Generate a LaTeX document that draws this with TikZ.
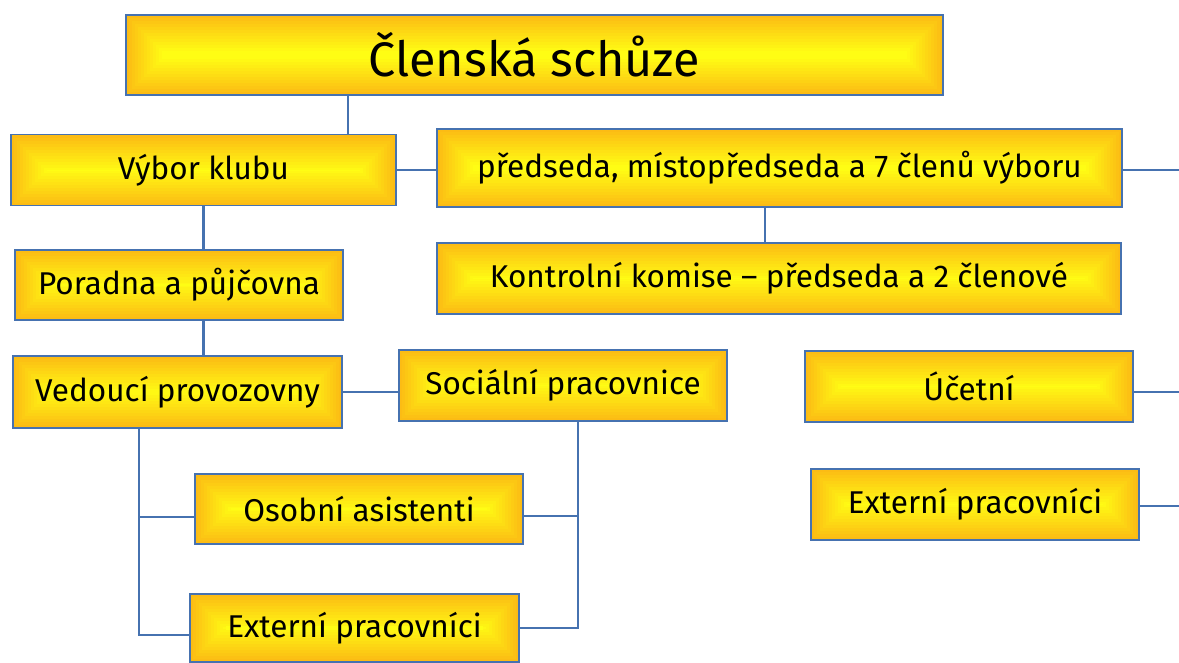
\documentclass[tikz,border=0pt]{standalone}
\usepackage{fontspec}
\setmainfont{Fira Sans}
\usepackage{xcolor}
\usepackage{tikz}
\usetikzlibrary{calc}
\definecolor{edgegold}{RGB}{252,188,20}
\definecolor{coreyellow}{RGB}{255,253,20}
\definecolor{linkblue}{RGB}{70,114,176}
\tikzstyle{orgbox} = [rectangle, minimum width=328pt, minimum height=71pt, inner sep=0pt, text centered, draw=linkblue, line width=1.8pt, font=\fontsize{31.5}{38}\selectfont,
    path picture={
        \foreach \i in {0,...,12}{
            \pgfmathsetmacro{\pct}{\i*100/12}
            \fill[coreyellow!\pct!edgegold] ([shift={(\i*3pt,\i*3pt)}]path picture bounding box.south west) rectangle ([shift={(-\i*3pt,-\i*3pt)}]path picture bounding box.north east);
        }
    }]
\tikzstyle{titlebox} = [orgbox, minimum width=817pt, minimum height=80pt, font=\fontsize{48.5}{58}\selectfont]
\tikzstyle{link} = [draw=linkblue, line width=2.2pt]

\begin{document}
\begin{tikzpicture}[x=1pt, y=-1pt]
    \useasboundingbox (0,0) rectangle (1179,662);

    \node (clenska) [titlebox] at (534.5,55) {Členská schůze};
    \node (vybor) [orgbox, minimum width=385pt] at (203.5,170) {Výbor klubu};
    \node (predseda) [orgbox, minimum width=685pt, minimum height=78pt] at (779.5,168) {předseda, místopředseda a 7 členů výboru};
    \node (kontrola) [orgbox, minimum width=684pt] at (779,278.5) {Kontrolní komise – předseda a 2 členové};
    \node (poradna) [orgbox, minimum height=70pt] at (179,285) {Poradna a půjčovna};
    \node (vedouci) [orgbox, minimum width=329pt, minimum height=72pt] at (177.5,392) {Vedoucí provozovny};
    \node (socialni) [orgbox] at (563,385.5) {Sociální pracovnice};
    \node (osobni) [orgbox, minimum height=70pt] at (359,509) {Osobní asistenti};
    \node (externiL) [orgbox, minimum width=329pt, minimum height=68pt] at (354.5,628) {Externí pracovníci};
    \node (ucetni) [orgbox] at (969,386.5) {Účetní};
    \node (externiR) [orgbox] at (975,504.5) {Externí pracovníci};

    % volne konce vpravo
    \coordinate (edgeA) at (1179,170);
    \coordinate (edgeB) at (1179,392);
    \coordinate (edgeC) at (1179,506);

    \draw [link] ([xshift=-186.5pt]clenska.south) -- ([xshift=-186.5pt]clenska.south |- vybor.north);
    \draw [link] (vybor.east) -- (vybor.east -| predseda.west);
    \draw [link] (predseda.east |- edgeA) -- (edgeA);
    \draw [link] ([xshift=-14.5pt]predseda.south) -- ([xshift=-14.5pt]predseda.south |- kontrola.north);
    \draw [link] (vybor.south) -- (vybor.south |- poradna.north);
    \draw [link] (vybor.south |- poradna.south) -- (vybor.south |- vedouci.north);
    \draw [link] (vedouci.east) -- (vedouci.east -| socialni.west);

    \draw [link] ([xshift=-38.5pt]vedouci.south) |- ([yshift=-8pt]osobni.west);
    \draw [link] ([xshift=-38.5pt]vedouci.south) |- ([yshift=-7pt]externiL.west);
    \draw [link] ([xshift=15pt]socialni.south) |- ([yshift=-7pt]osobni.east);
    \draw [link] ([xshift=15pt]socialni.south) |- (externiL.east);

    \draw [link] (ucetni.east |- edgeB) -- (edgeB);
    \draw [link] (externiR.east |- edgeC) -- (edgeC);
\end{tikzpicture}
\end{document}
